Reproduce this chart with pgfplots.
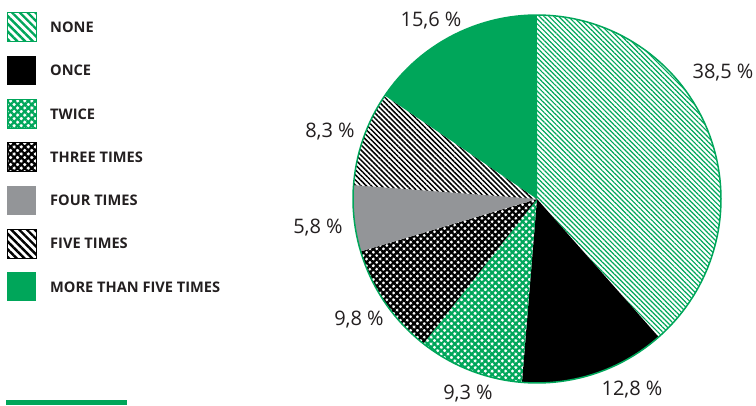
\documentclass[border=0pt]{standalone}
\usepackage{pgfplots}
\pgfplotsset{compat=1.18}
\usetikzlibrary{patterns.meta}
\usepackage{fontspec}
\setmainfont{Open Sans}
\definecolor{pgreen}{RGB}{0,166,90}
\definecolor{pgray}{RGB}{147,149,152}
\definecolor{ptext}{RGB}{35,31,32}

% shares in percent (clockwise from 12 o'clock)
\def\vNone{38.5}
\def\vOnce{12.8}
\def\vTwice{9.3}
\def\vThree{9.8}
\def\vFour{5.8}
\def\vFive{8.3}
\def\vMore{15.6}
\pgfmathsetmacro\aO{90}
\pgfmathsetmacro\aA{\aO-3.6*\vNone}
\pgfmathsetmacro\aB{\aA-3.6*\vOnce}
\pgfmathsetmacro\aC{\aB-3.6*\vTwice}
\pgfmathsetmacro\aD{\aC-3.6*\vThree}
\pgfmathsetmacro\aE{\aD-3.6*\vFour}
\pgfmathsetmacro\aF{\aE-3.6*\vFive}
\pgfmathsetmacro\aG{-270}

\tikzset{
  pNone/.style={pattern={Lines[angle=-45,distance=3.4pt,line width=1.2pt]}, pattern color=pgreen},
  pTwice/.style={pattern={Hatch[angle=45,distance=4.8pt,line width=2.2pt]}, pattern color=pgreen},
  pThree/.style={pattern={Hatch[angle=45,distance=4.8pt,line width=2.3pt]}, pattern color=black},
  pFive/.style={pattern={Lines[angle=-45,distance=3.6pt,line width=1.5pt]}, pattern color=black},
  lNone/.style={pattern={Lines[angle=-45,distance=5.5pt,line width=2.4pt]}, pattern color=pgreen, draw=pgreen, line width=1pt},
  lTwice/.style={pattern={Hatch[angle=45,distance=5pt,line width=2.2pt]}, pattern color=pgreen, draw=pgreen, line width=1pt},
  lThree/.style={pattern={Hatch[angle=45,distance=5pt,line width=2.2pt]}, pattern color=black, draw=black, line width=1pt},
  lFive/.style={pattern={Lines[angle=-45,distance=5.5pt,line width=2.4pt]}, pattern color=black, draw=black, line width=1pt},
  pct/.style={font=\fontsize{20}{24}\selectfont, text=ptext},
  leg/.style={font=\fontsize{14.6}{17}\selectfont\bfseries, text=ptext, anchor=west, inner sep=0pt},
}

\newcommand{\pieslice}[3]{%
  \addplot[draw=none, #3, domain=#1:#2, samples=90, variable=\t]
    ({537+184*cos(\t)}, {206+184*sin(\t)}) -- (axis cs:537,206) -- cycle;}

\newcommand{\legpatch}[2]{% #1 = centre y (data), #2 = style
  \addplot[#2] coordinates {(7,#1-14.5) (36,#1-14.5) (36,#1+14.5) (7,#1+14.5)} -- cycle;}

\begin{document}
\begin{tikzpicture}
\begin{axis}[
  scale only axis, width=756pt, height=405pt,
  xmin=0, xmax=756, ymin=0, ymax=405,
  hide axis, clip=true,
]
% pie slices
\pieslice{\aO}{\aA}{pNone}
\pieslice{\aA}{\aB}{fill=black}
\pieslice{\aB}{\aC}{pTwice}
\pieslice{\aC}{\aD}{pThree}
\pieslice{\aD}{\aE}{fill=pgray}
\pieslice{\aE}{\aF}{pFive}
\pieslice{\aF}{\aG}{fill=pgreen}
% outline
\addplot[pgreen, line width=1.5pt, domain=0:360, samples=180, variable=\t]
  ({537+184*cos(\t)}, {206+184*sin(\t)});

% percentage labels
\node[pct] at (axis cs:431,384) {15,6 \%};
\node[pct] at (axis cs:723,332) {38,5 \%};
\node[pct] at (axis cs:330,273) {8,3 \%};
\node[pct] at (axis cs:318,177) {5,8 \%};
\node[pct] at (axis cs:359,85) {9,8 \%};
\node[pct] at (axis cs:468,11) {9,3 \%};
\node[pct] at (axis cs:632,15) {12,8 \%};

% legend
\legpatch{377.5}{lNone}
\legpatch{334.25}{fill=black, draw=none}
\legpatch{291}{lTwice}
\legpatch{247.75}{lThree}
\legpatch{204.5}{fill=pgray, draw=none}
\legpatch{161.25}{lFive}
\legpatch{118}{fill=pgreen, draw=none}
\node[leg] at (axis cs:50,377.5) {NONE};
\node[leg] at (axis cs:50,334.25) {ONCE};
\node[leg] at (axis cs:50,291) {TWICE};
\node[leg] at (axis cs:50,247.75) {THREE TIMES};
\node[leg] at (axis cs:50,204.5) {FOUR TIMES};
\node[leg] at (axis cs:50,161.25) {FIVE TIMES};
\node[leg] at (axis cs:50,118) {MORE THAN FIVE TIMES};

% bottom rule
\addplot[fill=pgreen, draw=none] coordinates {(6,0) (127,0) (127,5) (6,5)} -- cycle;
\end{axis}
\pgfresetboundingbox
\path[use as bounding box] (current axis.south west) rectangle (current axis.north east);
\end{tikzpicture}
\end{document}
